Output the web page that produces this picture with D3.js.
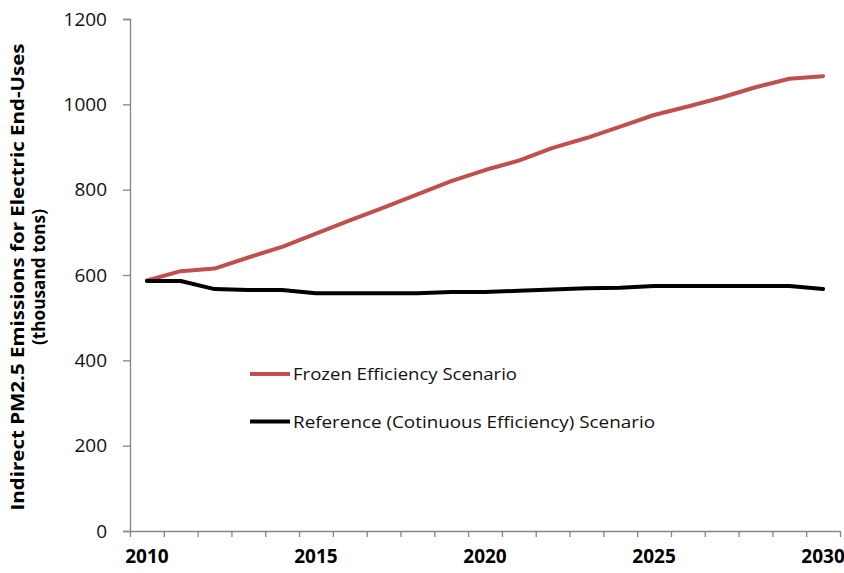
<!DOCTYPE html>
<html>
<head>
<meta charset="utf-8">
<script src="https://cdn.jsdelivr.net/npm/d3@7"></script>
<style>
  html, body { margin: 0; padding: 0; background: #fff; }
  svg { display: block; }
</style>
</head>
<body>
<svg id="chart" width="844" height="573"></svg>
<script>
// ---- data ----
const years = [2010,2011,2012,2013,2014,2015,2016,2017,2018,2019,2020,2021,2022,2023,2024,2025,2026,2027,2028,2029,2030];
const frozen = [587,609,615,641,666,697,728,758,789,820,846,868,898,921,948,975,995,1016,1040,1060,1066];
const reference = [586,586,567,565,565,557,557,557,557,560,560,563,566,569,570,574,574,574,574,574,567];
const yTicks = [0,200,400,600,800,1000,1200];
const xLabelYears = [2010,2015,2020,2025,2030];
const seriesNames = ["Frozen Efficiency Scenario","Reference (Cotinuous Efficiency) Scenario"];
const yTitle1 = "Indirect PM2.5 Emissions for Electric End-Uses";
const yTitle2 = "(thousand tons)";

// ---- layout ----
const svg = d3.select("#chart");
const mLeft = 130, mRight = 840, mTop = 19, mBottom = 531;
const axisColor = "#868686";
const font = "'Open Sans', 'DejaVu Sans', sans-serif";

const x = d3.scaleBand().domain(years).range([mLeft, mRight]).padding(0);
const xEdge = d3.scaleLinear().domain([0, years.length]).range([mLeft, mRight]);
const y = d3.scaleLinear().domain([0, 1200]).range([mBottom, mTop]);

// y axis
const yAxis = svg.append("g").attr("transform", `translate(${mLeft},0)`)
  .call(d3.axisLeft(y).tickValues(yTicks).tickSize(7).tickPadding(16).tickFormat(d3.format("d")));
yAxis.select(".domain").attr("stroke", axisColor).attr("stroke-width", 1.3);
yAxis.selectAll(".tick line").attr("stroke", axisColor).attr("stroke-width", 1.3);
yAxis.selectAll(".tick text").attr("font-family", font).attr("font-size", 19).attr("fill", "#111");

// x axis ticks (category boundaries)
const xTickAxis = svg.append("g").attr("transform", `translate(0,${mBottom})`)
  .call(d3.axisBottom(xEdge).tickValues(d3.range(0, years.length + 1)).tickSize(6).tickFormat(""));
xTickAxis.select(".domain").attr("stroke", axisColor).attr("stroke-width", 1.3).attr("d", `M${mLeft},0.5H${mRight}`);
xTickAxis.selectAll(".tick line").attr("stroke", axisColor).attr("stroke-width", 1.3);

// x axis labels
const xLab = svg.append("g").attr("transform", `translate(0,${mBottom})`)
  .call(d3.axisBottom(x).tickValues(xLabelYears).tickSize(0).tickPadding(19));
xLab.select(".domain").remove();
xLab.selectAll(".tick text").attr("font-family", font).attr("font-size", 19).attr("font-weight", "bold").attr("fill", "#000");

// lines
const line = d3.line().x((d, i) => x(years[i]) + x.bandwidth() / 2).y(d => y(d));
svg.append("path").datum(frozen).attr("d", line)
  .attr("fill", "none").attr("stroke", "#C0504D").attr("stroke-width", 4).attr("stroke-linejoin", "round").attr("stroke-linecap", "round");
svg.append("path").datum(reference).attr("d", line)
  .attr("fill", "none").attr("stroke", "#000").attr("stroke-width", 4).attr("stroke-linejoin", "round").attr("stroke-linecap", "round");

// legend
const legend = [
  {name: seriesNames[0], color: "#C0504D", ly: 374, len: 224},
  {name: seriesNames[1], color: "#000", ly: 421.5, len: 362}
];
legend.forEach(l => {
  svg.append("line").attr("x1", 250).attr("x2", 290).attr("y1", l.ly).attr("y2", l.ly)
    .attr("stroke", l.color).attr("stroke-width", 4);
  svg.append("text").attr("x", 293).attr("y", l.ly + 6)
    .attr("font-family", font).attr("font-size", 16).attr("fill", "#111")
    .attr("textLength", l.len).attr("lengthAdjust", "spacingAndGlyphs")
    .text(l.name);
});

// y title
const cy = 277;
svg.append("text").attr("transform", `translate(24,${cy}) rotate(-90)`)
  .attr("text-anchor", "middle").attr("font-family", font).attr("font-size", 18.5).attr("font-weight", "bold")
  .attr("textLength", 467).attr("lengthAdjust", "spacingAndGlyphs")
  .text(yTitle1);
svg.append("text").attr("transform", `translate(45,${cy}) rotate(-90)`)
  .attr("text-anchor", "middle").attr("font-family", font).attr("font-size", 18.5).attr("font-weight", "bold")
  .attr("textLength", 136).attr("lengthAdjust", "spacingAndGlyphs")
  .text(yTitle2);
</script>
</body>
</html>
